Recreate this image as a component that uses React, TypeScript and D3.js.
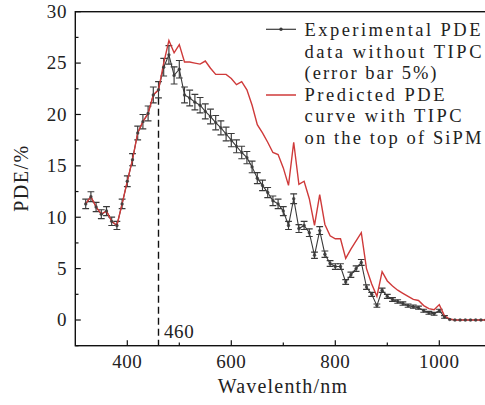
import React, { useEffect, useRef } from 'react';
import * as d3 from 'd3';

// wavelength grid (nm) of the measurement
const wavelengths = [
  320, 330, 340, 350, 360, 370, 380, 390, 400, 410, 420, 430, 440, 450, 460, 470,
  480, 490, 500, 510, 520, 530, 540, 550, 560, 570, 580, 590, 600, 610, 620, 630,
  640, 650, 660, 670, 680, 690, 700, 710, 720, 730, 740, 750, 760, 770, 780, 790,
  800, 810, 820, 830, 840, 850, 860, 870, 880, 890, 900, 910, 920, 930, 940, 950,
  960, 970, 980, 990, 1000, 1010, 1020, 1030, 1040, 1050, 1060, 1070, 1080, 1090,
];

// experimental PDE without TIPC (%)
const measuredPde = [
  11.3, 12.0, 11.0, 10.3, 10.6, 9.6, 9.2, 11.3, 13.5, 15.6, 18.2, 19.3, 20.1, 21.9, 22.4, 24.6,
  25.8, 23.8, 24.4, 21.9, 21.6, 21.2, 20.9, 20.3, 19.8, 19.2, 18.7, 18.1, 17.5, 16.9, 16.3, 15.8,
  14.9, 13.8, 13.1, 12.4, 11.6, 11.3, 10.6, 9.2, 11.8, 8.9, 9.2, 8.5, 6.3, 8.7, 6.4, 5.5,
  5.2, 5.2, 3.7, 4.4, 5.0, 5.6, 3.2, 2.5, 1.4, 2.9, 2.3, 2.0, 1.8, 1.6, 1.4, 1.3,
  1.2, 0.9, 0.7, 0.6, 0.9, 0.3, 0.05, 0, 0, 0, 0, 0, 0, 0,
];

// predicted PDE with TIPC on top of the SiPM (%)
const predictedPde = [
  11.3, 12.0, 11.0, 10.3, 10.6, 9.6, 9.2, 11.3, 13.5, 15.6, 18.2, 19.3, 20.1, 21.9, 22.4, 25.0,
  27.2, 26.0, 26.8, 25.1, 25.1, 25.0, 24.9, 25.2, 24.5, 23.9, 23.9, 23.9, 23.5, 22.9, 23.2, 22.4,
  20.9, 19.0, 18.2, 17.3, 16.3, 16.1, 14.8, 13.1, 17.3, 13.2, 13.5, 11.8, 9.2, 12.2, 9.3, 8.2,
  7.9, 7.9, 6.0, 6.9, 7.7, 8.5, 5.0, 3.5, 2.3, 4.7, 3.8, 3.3, 2.9, 2.6, 2.3, 2.0,
  1.9, 1.4, 1.1, 1.0, 1.5, 0.4, 0.1, 0, 0, 0, 0, 0, 0, 0,
];

const xTicks = [400, 600, 800, 1000];
const xMinorTicks = [500, 700, 900];
const yTicks = [0, 5, 10, 15, 20, 25, 30];
const yMinorTicks = [-2.5, 2.5, 7.5, 12.5, 17.5, 22.5, 27.5];

const markWavelength = 460;
const legendLines = [
  'Experimental PDE',
  'data without TIPC',
  '(error bar 5%)',
  'Predicted PDE',
  'curve with TIPC',
  'on the top of SiPM',
];
// rendered widths of the legend lines in the original (px)
const legendWidths = [176, 177, 132, 140, 157, 177];

const FONT = '"Liberation Serif", "Times New Roman", serif';
const DARK = '#3a3a3a';
const RED = '#cf3a3a';

function App() {
  const ref = useRef<SVGSVGElement>(null);

  useEffect(() => {
    const svg = d3.select(ref.current);
    svg.selectAll('*').remove();

    const left = 75.3, top = 11.7, right = 491.3, bottom = 345.7;
    const x = d3.scaleLinear().domain([300, 1100]).range([left, right]);
    const y = d3.scaleLinear().domain([-2.5, 30]).range([bottom, top]);

    const pts = wavelengths.map((w, i) => ({ w, v: measuredPde[i], p: predictedPde[i] }));

    svg.append('defs').append('clipPath').attr('id', 'plot-clip')
      .append('rect').attr('x', left).attr('y', top)
      .attr('width', right - left).attr('height', bottom - top);

    const plot = svg.append('g').attr('clip-path', 'url(#plot-clip)');

    // dashed marker at 460 nm
    const idx460 = wavelengths.indexOf(markWavelength);
    const v460 = measuredPde[idx460];
    plot.append('line')
      .attr('x1', x(markWavelength)).attr('x2', x(markWavelength))
      .attr('y1', y(v460 * 0.965)).attr('y2', bottom)
      .attr('stroke', '#111').attr('stroke-width', 1.4)
      .attr('stroke-dasharray', '7,4');

    // error bars (5 % nominal)
    const err = (v: number) => v * 0.03 + 0.12;
    const bars = plot.append('g').attr('stroke', DARK).attr('stroke-width', 1.15);
    pts.forEach((d) => {
      if (d.v <= 0.05) return;
      const cx = x(d.w);
      const y1 = y(d.v + err(d.v));
      const y2 = y(d.v - err(d.v));
      bars.append('line').attr('x1', cx).attr('x2', cx).attr('y1', y1).attr('y2', y2);
      bars.append('line').attr('x1', cx - 3.4).attr('x2', cx + 3.4).attr('y1', y1).attr('y2', y1);
      bars.append('line').attr('x1', cx - 3.4).attr('x2', cx + 3.4).attr('y1', y2).attr('y2', y2);
    });

    const measuredLine = d3.line<typeof pts[0]>().x((d) => x(d.w)).y((d) => y(d.v));
    const predictedLine = d3.line<typeof pts[0]>().x((d) => x(d.w)).y((d) => y(d.p));

    plot.append('path').datum(pts).attr('d', measuredLine)
      .attr('fill', 'none').attr('stroke', DARK).attr('stroke-width', 1.1);

    plot.append('path').datum(pts).attr('d', predictedLine)
      .attr('fill', 'none').attr('stroke', RED).attr('stroke-width', 1.4);

    plot.append('g').selectAll('circle').data(pts).join('circle')
      .attr('cx', (d) => x(d.w)).attr('cy', (d) => y(d.v)).attr('r', 1.7)
      .attr('fill', DARK).attr('opacity', 0.85);

    // frame
    svg.append('rect').attr('x', left).attr('y', top)
      .attr('width', right - left).attr('height', bottom - top)
      .attr('fill', 'none').attr('stroke', '#111').attr('stroke-width', 1.4);

    // ticks (inward)
    const ax = svg.append('g').attr('stroke', '#111').attr('stroke-width', 1.2);
    xTicks.forEach((t) => ax.append('line').attr('x1', x(t)).attr('x2', x(t)).attr('y1', bottom).attr('y2', bottom - 5.5));
    xMinorTicks.forEach((t) => ax.append('line').attr('x1', x(t)).attr('x2', x(t)).attr('y1', bottom).attr('y2', bottom - 3.2));
    yTicks.forEach((t) => ax.append('line').attr('x1', left).attr('x2', left + 5.5).attr('y1', y(t)).attr('y2', y(t)));
    yMinorTicks.forEach((t) => ax.append('line').attr('x1', left).attr('x2', left + 3.2).attr('y1', y(t)).attr('y2', y(t)));

    const txt = svg.append('g').attr('font-family', FONT).attr('fill', '#222');

    xTicks.forEach((t) => txt.append('text').attr('x', x(t)).attr('y', 368)
      .attr('text-anchor', 'middle').attr('font-size', 19).attr('letter-spacing', 0.6).text(t));
    yTicks.forEach((t) => txt.append('text').attr('x', 67).attr('y', y(t) + 6.3)
      .attr('text-anchor', 'end').attr('font-size', 19).attr('letter-spacing', 0.6).text(t));

    txt.append('text').attr('x', x(markWavelength) + 5.5).attr('y', 337.5)
      .attr('font-size', 19).attr('letter-spacing', 0.6).text(markWavelength);

    txt.append('text').attr('x', 283).attr('y', 393)
      .attr('text-anchor', 'middle').attr('font-size', 20).attr('letter-spacing', 1.2)
      .text('Wavelenth/nm');

    txt.append('text').attr('transform', 'translate(28,178) rotate(-90)')
      .attr('text-anchor', 'middle').attr('font-size', 20).attr('letter-spacing', 1.5)
      .text('PDE/%');

    // legend
    const lg = svg.append('g');
    lg.append('line').attr('x1', 266).attr('x2', 296).attr('y1', 29.3).attr('y2', 29.3)
      .attr('stroke', DARK).attr('stroke-width', 1.2);
    lg.append('circle').attr('cx', 281).attr('cy', 29.3).attr('r', 1.7).attr('fill', DARK);
    lg.append('line').attr('x1', 266).attr('x2', 296).attr('y1', 95).attr('y2', 95)
      .attr('stroke', RED).attr('stroke-width', 1.5);
    legendLines.forEach((s, i) => txt.append('text').attr('x', 304.5).attr('y', 36 + i * 21.6)
      .attr('font-size', 18.5).attr('textLength', legendWidths[i])
      .attr('lengthAdjust', 'spacing').text(s));
  }, []);

  return (
    <svg ref={ref} width={485} height={405}
      style={{ position: 'absolute', left: 0, top: 0, background: '#fff' }} />
  );
}

export default App;
